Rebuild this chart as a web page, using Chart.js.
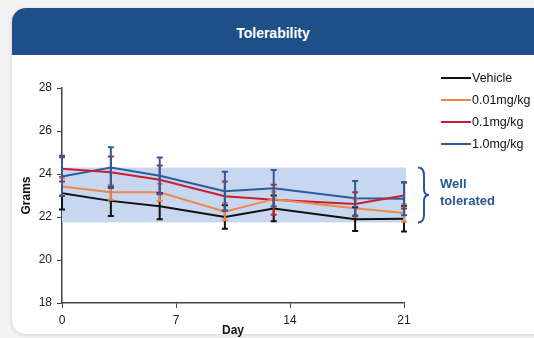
<!DOCTYPE html>
<html>
<head>
<meta charset="utf-8">
<script src="https://cdn.jsdelivr.net/npm/chart.js@4.4.1/dist/chart.umd.min.js"></script>
<style>
  body { margin: 0; background: #f4f4f4; font-family: "Liberation Sans", Arial, sans-serif; }
  #wrap { position: relative; width: 534px; height: 338px; overflow: hidden; }
  #card { position: absolute; left: 12px; top: 8px; width: 540px; height: 326px; background: #fff;
          border-radius: 14px 0 0 14px; box-shadow: -1px 1px 4px rgba(0,0,0,0.12); overflow: hidden; }
  #head { height: 47px; background: #1f4f88; color: #fff; font-weight: bold; font-size: 14px;
          text-align: center; line-height: 50px; width: 522px; }
  #chart { position: absolute; left: 0; top: 55px; }
  #legend { position: absolute; left: 441px; top: 67px; font-size: 12.5px; color: #111; }
  #legend div { height: 22px; display: flex; align-items: center; }
  #legend span.ln { display: inline-block; width: 30px; height: 2px; margin-right: 1px; }
  #note { position: absolute; left: 440px; top: 175px; color: #2a5597; font-weight: bold; font-size: 13px; line-height: 17px; }
</style>
</head>
<body>
<div id="wrap">
  <div id="card"><div id="head">Tolerability</div></div>
  <canvas id="chart" width="534" height="283"></canvas>
  <div id="legend"></div>
  <div id="note">Well<br>tolerated</div>
</div>
<script>
const days = [0, 3, 6, 10, 13, 18, 21];
const seriesNames = ["Vehicle", "0.01mg/kg", "0.1mg/kg", "1.0mg/kg"];
const seriesColors = ["#111111", "#f0874a", "#c81f2d", "#2d5b9c"];
const vehicle = [23.1, 22.75, 22.5, 22.0, 22.4, 21.9, 21.92];
const dose001 = [23.42, 23.15, 23.15, 22.25, 22.83, 22.41, 22.19];
const dose01 = [24.25, 24.08, 23.73, 22.97, 22.8, 22.6, 23.0];
const dose10 = [23.88, 24.3, 23.92, 23.2, 23.34, 22.87, 22.85];
const vehicleErr = [0.75, 0.7, 0.6, 0.55, 0.6, 0.55, 0.6];
const dose001Err = [0.4, 0.35, 0.4, 0.4, 0.35, 0.4, 0.4];
const dose01Err = [0.6, 0.73, 0.67, 0.68, 0.7, 0.55, 0.6];
const dose10Err = [0.9, 0.94, 0.85, 0.9, 0.85, 0.8, 0.77];
const band = [21.75, 24.3];

const values = [vehicle, dose001, dose01, dose10];
const errors = [vehicleErr, dose001Err, dose01Err, dose10Err];

const legend = document.getElementById("legend");
seriesNames.forEach((n, i) => {
  legend.innerHTML += '<div><span class="ln" style="background:' + seriesColors[i] + '"></span>' + n + '</div>';
});

const bandPlugin = {
  id: "band",
  beforeDatasetsDraw(chart) {
    const { ctx, scales: { x, y } } = chart;
    const top = y.getPixelForValue(band[1]), bot = y.getPixelForValue(band[0]);
    ctx.save();
    ctx.fillStyle = "#c6d7ef";
    ctx.fillRect(x.getPixelForValue(0), top, x.getPixelForValue(21) - x.getPixelForValue(0) + 2, bot - top);
    // brace
    const bx = x.getPixelForValue(21) + 14, mid = (top + bot) / 2;
    ctx.strokeStyle = "#2a5597";
    ctx.lineWidth = 2;
    ctx.beginPath();
    ctx.moveTo(bx, top);
    ctx.quadraticCurveTo(bx + 6, top, bx + 6, top + 8);
    ctx.lineTo(bx + 6, mid - 6);
    ctx.quadraticCurveTo(bx + 6, mid, bx + 11, mid);
    ctx.quadraticCurveTo(bx + 6, mid, bx + 6, mid + 6);
    ctx.lineTo(bx + 6, bot - 8);
    ctx.quadraticCurveTo(bx + 6, bot, bx, bot);
    ctx.stroke();
    ctx.restore();
  },
  afterDatasetsDraw(chart) {
    const { ctx, scales: { x, y } } = chart;
    ctx.save();
    ctx.lineWidth = 2;
    chart.data.datasets.forEach((ds, i) => {
      ctx.strokeStyle = seriesColors[i];
      ds.data.forEach((p, j) => {
        const px = x.getPixelForValue(p.x);
        const y1 = y.getPixelForValue(p.y + errors[i][j]);
        const y2 = y.getPixelForValue(p.y - errors[i][j]);
        ctx.beginPath();
        ctx.moveTo(px, y1); ctx.lineTo(px, y2);
        ctx.moveTo(px - 3, y1); ctx.lineTo(px + 3, y1);
        ctx.moveTo(px - 3, y2); ctx.lineTo(px + 3, y2);
        ctx.stroke();
      });
    });
    ctx.restore();
  }
};

new Chart("chart", {
  type: "line",
  data: {
    datasets: values.map((v, i) => ({
      label: seriesNames[i],
      data: v.map((val, j) => ({ x: days[j], y: val })),
      borderColor: seriesColors[i],
      borderWidth: 2,
      pointRadius: 0,
      tension: 0,
      fill: false,
    })),
  },
  options: {
    responsive: false,
    animation: false,
    layout: { padding: { top: 33, right: 130, left: 19, bottom: 0 } },
    plugins: { legend: { display: false }, tooltip: { enabled: false } },
    scales: {
      x: {
        type: "linear", min: 0, max: 21,
        afterFit: (s) => { s.height = 35; },
        ticks: { stepSize: 7, color: "#222", font: { size: 12, family: "Liberation Sans" }, padding: 5 },
        grid: { drawOnChartArea: false, tickLength: 5, color: "#444" },
        border: { color: "#444", width: 1.5 },
        title: { display: true, text: "Day", color: "#111", font: { size: 12, weight: "bold", family: "Liberation Sans" }, padding: 0 },
      },
      y: {
        min: 18, max: 28,
        afterFit: (s) => { s.width = 43; },
        ticks: { stepSize: 2, color: "#222", font: { size: 12, family: "Liberation Sans" }, padding: 5 },
        grid: { drawOnChartArea: false, tickLength: 5, color: "#444" },
        border: { color: "#444", width: 1.5 },
        title: { display: true, text: "Grams", color: "#111", font: { size: 12, weight: "bold", family: "Liberation Sans" }, padding: 0 },
      },
    },
  },
  plugins: [bandPlugin],
});
</script>
</body>
</html>
